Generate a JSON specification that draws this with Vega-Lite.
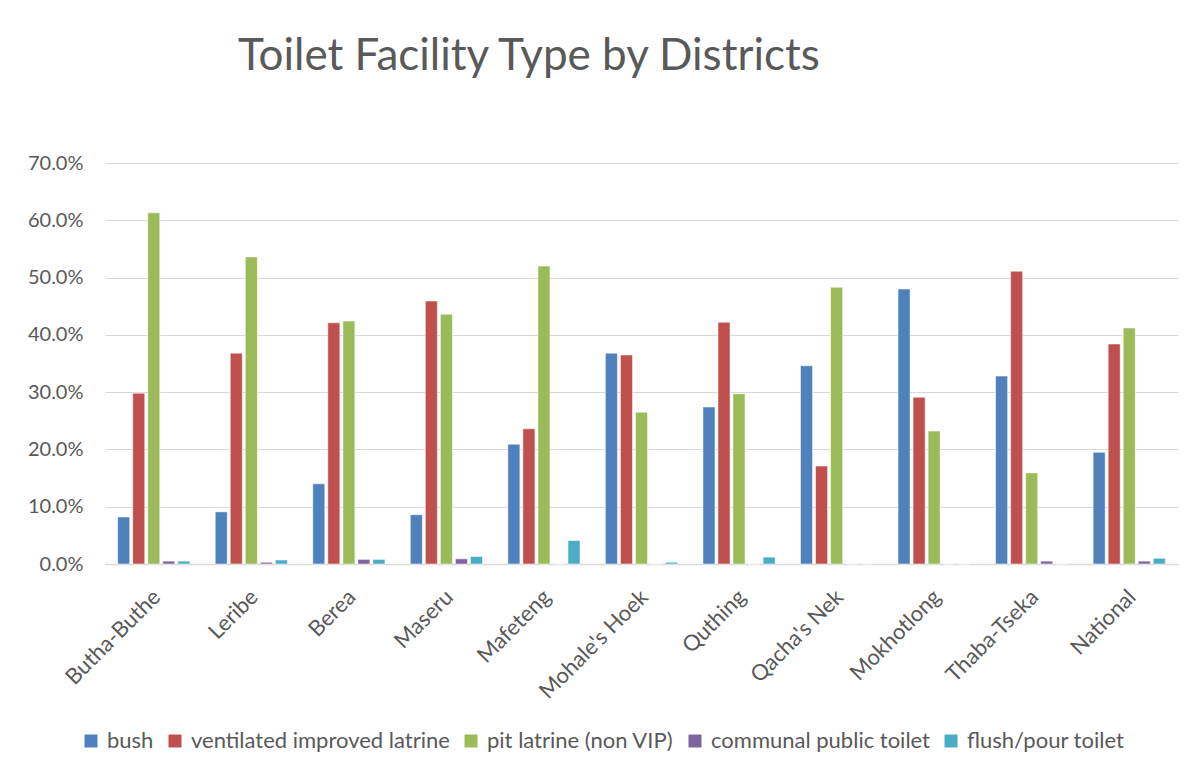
{
  "$schema": "https://vega.github.io/schema/vega-lite/v6.json",
  "autosize": {"type": "none"},
  "width": 1073,
  "height": 401,
  "padding": {"left": 105, "top": 163, "right": 25, "bottom": 214},
  "background": "white",
  "title": {
    "text": "Toilet Facility Type by Districts",
    "anchor": "start",
    "frame": "group",
    "dx": 133,
    "offset": 74,
    "font": "Lato",
    "fontSize": 44,
    "fontWeight": "normal",
    "color": "#595959"
  },
  "config": {
    "view": {"stroke": null},
    "font": "Lato"
  },
  "data": {
    "values": [
      {"district": "Butha-Buthe", "type": "bush", "value": 0.082},
      {"district": "Butha-Buthe", "type": "ventilated improved latrine", "value": 0.298},
      {"district": "Butha-Buthe", "type": "pit latrine (non VIP)", "value": 0.613},
      {"district": "Butha-Buthe", "type": "communal public toilet", "value": 0.005},
      {"district": "Butha-Buthe", "type": "flush/pour toilet", "value": 0.005},
      {"district": "Leribe", "type": "bush", "value": 0.091},
      {"district": "Leribe", "type": "ventilated improved latrine", "value": 0.368},
      {"district": "Leribe", "type": "pit latrine (non VIP)", "value": 0.536},
      {"district": "Leribe", "type": "communal public toilet", "value": 0.003},
      {"district": "Leribe", "type": "flush/pour toilet", "value": 0.007},
      {"district": "Berea", "type": "bush", "value": 0.140},
      {"district": "Berea", "type": "ventilated improved latrine", "value": 0.421},
      {"district": "Berea", "type": "pit latrine (non VIP)", "value": 0.424},
      {"district": "Berea", "type": "communal public toilet", "value": 0.008},
      {"district": "Berea", "type": "flush/pour toilet", "value": 0.008},
      {"district": "Maseru", "type": "bush", "value": 0.086},
      {"district": "Maseru", "type": "ventilated improved latrine", "value": 0.459},
      {"district": "Maseru", "type": "pit latrine (non VIP)", "value": 0.436},
      {"district": "Maseru", "type": "communal public toilet", "value": 0.009},
      {"district": "Maseru", "type": "flush/pour toilet", "value": 0.013},
      {"district": "Mafeteng", "type": "bush", "value": 0.209},
      {"district": "Mafeteng", "type": "ventilated improved latrine", "value": 0.236},
      {"district": "Mafeteng", "type": "pit latrine (non VIP)", "value": 0.520},
      {"district": "Mafeteng", "type": "communal public toilet", "value": 0.0},
      {"district": "Mafeteng", "type": "flush/pour toilet", "value": 0.041},
      {"district": "Mohale's Hoek", "type": "bush", "value": 0.368},
      {"district": "Mohale's Hoek", "type": "ventilated improved latrine", "value": 0.365},
      {"district": "Mohale's Hoek", "type": "pit latrine (non VIP)", "value": 0.265},
      {"district": "Mohale's Hoek", "type": "communal public toilet", "value": 0.0},
      {"district": "Mohale's Hoek", "type": "flush/pour toilet", "value": 0.003},
      {"district": "Quthing", "type": "bush", "value": 0.274},
      {"district": "Quthing", "type": "ventilated improved latrine", "value": 0.422},
      {"district": "Quthing", "type": "pit latrine (non VIP)", "value": 0.297},
      {"district": "Quthing", "type": "communal public toilet", "value": 0.0},
      {"district": "Quthing", "type": "flush/pour toilet", "value": 0.012},
      {"district": "Qacha's Nek", "type": "bush", "value": 0.346},
      {"district": "Qacha's Nek", "type": "ventilated improved latrine", "value": 0.171},
      {"district": "Qacha's Nek", "type": "pit latrine (non VIP)", "value": 0.483},
      {"district": "Qacha's Nek", "type": "communal public toilet", "value": 0.0},
      {"district": "Qacha's Nek", "type": "flush/pour toilet", "value": 0.0},
      {"district": "Mokhotlong", "type": "bush", "value": 0.480},
      {"district": "Mokhotlong", "type": "ventilated improved latrine", "value": 0.291},
      {"district": "Mokhotlong", "type": "pit latrine (non VIP)", "value": 0.232},
      {"district": "Mokhotlong", "type": "communal public toilet", "value": 0.0},
      {"district": "Mokhotlong", "type": "flush/pour toilet", "value": 0.0},
      {"district": "Thaba-Tseka", "type": "bush", "value": 0.328},
      {"district": "Thaba-Tseka", "type": "ventilated improved latrine", "value": 0.511},
      {"district": "Thaba-Tseka", "type": "pit latrine (non VIP)", "value": 0.159},
      {"district": "Thaba-Tseka", "type": "communal public toilet", "value": 0.005},
      {"district": "Thaba-Tseka", "type": "flush/pour toilet", "value": 0.0},
      {"district": "National", "type": "bush", "value": 0.195},
      {"district": "National", "type": "ventilated improved latrine", "value": 0.384},
      {"district": "National", "type": "pit latrine (non VIP)", "value": 0.412},
      {"district": "National", "type": "communal public toilet", "value": 0.005},
      {"district": "National", "type": "flush/pour toilet", "value": 0.010}
    ]
  },
  "mark": {"type": "bar", "stroke": "white", "strokeOpacity": 0.5, "strokeWidth": 1},
  "encoding": {
    "x": {
      "field": "district",
      "type": "nominal",
      "sort": null,
      "scale": {"paddingInner": 0.26, "paddingOuter": 0.13},
      "axis": {
        "title": null,
        "labelAngle": -45,
        "labelAlign": "right",
        "labelBaseline": "top",
        "labelFontSize": 22,
        "labelColor": "#595959",
        "labelPadding": 22,
        "labelOffset": -4,
        "ticks": false,
        "domainColor": "#d9d9d9",
        "domainWidth": 1.5,
        "grid": false
      }
    },
    "xOffset": {
      "field": "type",
      "type": "nominal",
      "sort": ["bush", "ventilated improved latrine", "pit latrine (non VIP)", "communal public toilet", "flush/pour toilet"],
      "scale": {"paddingInner": 0.2, "paddingOuter": 0}
    },
    "y": {
      "field": "value",
      "type": "quantitative",
      "scale": {"domain": [0, 0.7], "nice": false},
      "axis": {
        "title": null,
        "format": ".1%",
        "values": [0, 0.1, 0.2, 0.3, 0.4, 0.5, 0.6, 0.7],
        "labelFontSize": 20,
        "labelColor": "#595959",
        "labelPadding": 22,
        "ticks": false,
        "domain": false,
        "gridColor": "#d9d9d9",
        "gridWidth": 1.2
      }
    },
    "color": {
      "field": "type",
      "type": "nominal",
      "scale": {
        "domain": ["bush", "ventilated improved latrine", "pit latrine (non VIP)", "communal public toilet", "flush/pour toilet"],
        "range": ["#4F81BD", "#C0504D", "#9BBB59", "#8064A2", "#4BACC6"]
      },
      "legend": {
        "title": null,
        "orient": "none",
        "direction": "horizontal",
        "legendX": -25,
        "legendY": 567,
        "symbolType": "square",
        "symbolSize": 169,
        "symbolStrokeWidth": 0,
        "labelFontSize": 22,
        "labelLimit": 0,
        "labelColor": "#595959",
        "labelOffset": 5,
        "columnPadding": 10,
        "columns": 5
      }
    }
  }
}
